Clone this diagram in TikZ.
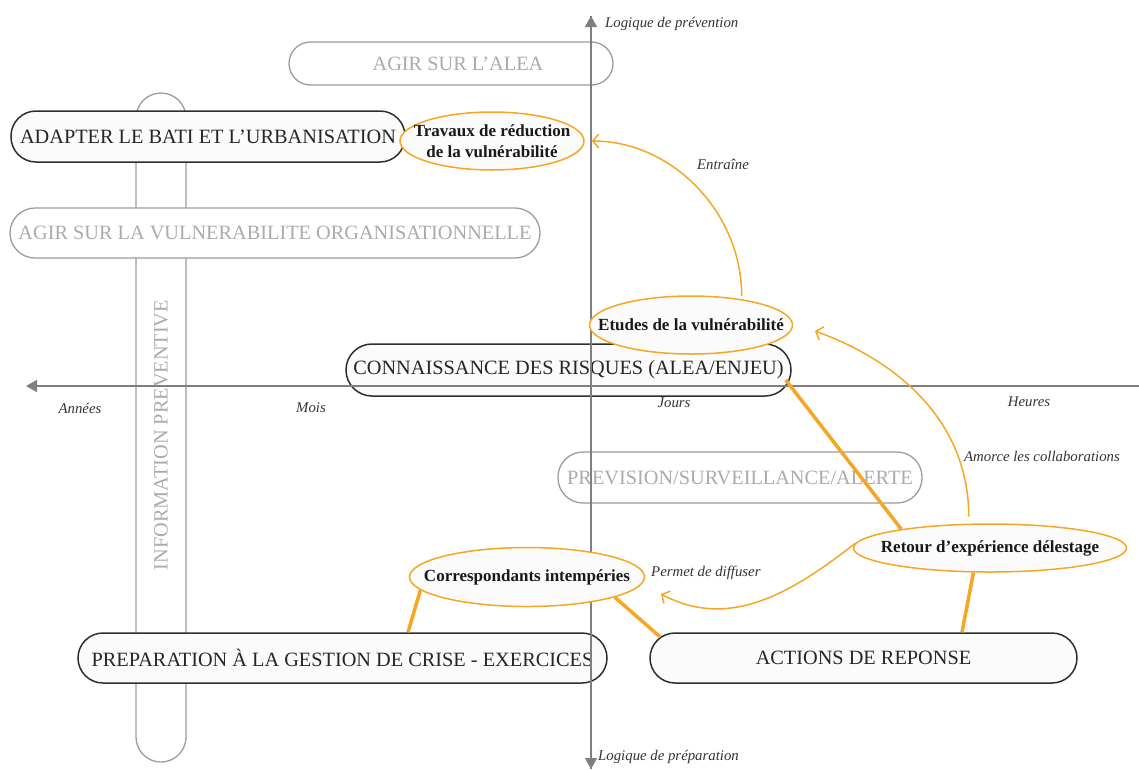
\documentclass[tikz,border=0pt]{standalone}
\usepackage{fontspec}
\setmainfont{Liberation Serif}
\usetikzlibrary{arrows.meta,shapes.geometric,calc}
\definecolor{axisgray}{HTML}{7F7F7F}
\definecolor{orng}{HTML}{F5A623}
\definecolor{boxdark}{HTML}{2E2E2E}
\definecolor{boxlight}{HTML}{9C9C9C}
\definecolor{txtlight}{HTML}{ABABAB}
\definecolor{fillw}{HTML}{FBFBFB}
\begin{document}
\begin{tikzpicture}[x=1pt,y=1pt,
  bigtxt/.style={font=\fontsize{20.3}{23}\selectfont},
  darkbox/.style={rectangle, rounded corners=25pt, draw=boxdark, line width=1.5pt, fill=fillw, text=black!85, bigtxt, inner sep=0pt},
  lightbox/.style={rectangle, rounded corners=25pt, draw=boxlight, line width=1.3pt, fill=white, text=txtlight, bigtxt, inner sep=0pt},
  idea/.style={ellipse, draw=orng, line width=1.5pt, fill=fillw, inner sep=0pt},
  ideatext/.style={text=black!90, font=\bfseries\fontsize{17}{20}\selectfont, inner sep=0pt, align=center},
  axisline/.style={draw=axisgray, line width=1.5pt},
  axtip/.style={-{Triangle[length=11pt,width=12pt]}},
  axlabel/.style={font=\itshape\fontsize{14.8}{17}\selectfont, text=black!80, inner sep=0pt},
  link/.style={draw=orng, line width=3.5pt},
  flow/.style={draw=orng, line width=1.5pt, -{Straight Barb[length=6pt,width=14pt]}},
]
\useasboundingbox (0,0) rectangle (1139,-769);

% vertical background box
\node[lightbox, rotate=90, minimum width=669pt, minimum height=50pt] (info) at (161,-427.5) {INFORMATION PREVENTIVE\hspace*{15pt}};

% boxes
\node[lightbox, rounded corners=21.5pt, minimum width=324pt, minimum height=43pt] (alea) at (451,-63.5) {\hspace*{14pt}AGIR SUR L’ALEA};
\node[darkbox, minimum width=394pt, minimum height=51pt] (adapter) at (208,-136.5) {ADAPTER LE BATI ET L’URBANISATION};
\node[lightbox, minimum width=530pt, minimum height=50pt] (orga) at (275,-233) {AGIR SUR LA VULNERABILITE ORGANISATIONNELLE};
\node[darkbox, rounded corners=26pt, minimum width=445pt, minimum height=52pt] (connaissance) at (568.5,-370) {CONNAISSANCE DES RISQUES (ALEA/ENJEU)};
\node[lightbox, minimum width=364pt, minimum height=51pt] (prevision) at (740,-477.5) {PREVISION/SURVEILLANCE/ALERTE};
\node[darkbox, minimum width=529pt, minimum height=50pt] (prep) at (342.5,-658) {PREPARATION À LA GESTION DE CRISE - EXERCICES};
\node[darkbox, minimum width=427pt, minimum height=50pt] (actions) at (863.5,-658) {ACTIONS DE REPONSE};

% axes
\coordinate (ytop) at (591,-16);
\coordinate (ybot) at (591,-769);
\coordinate (xleft) at (26,-386);
\coordinate (xright) at (1139,-386);
\draw[axisline, axtip] (ybot) -- (ytop);
\draw[axisline, axtip] (ytop) -- (ybot);
\draw[axisline, axtip] (xright) -- (xleft);

% axis labels
\node[axlabel, anchor=west] (lprev) at (605,-24) {Logique de prévention};
\node[axlabel, anchor=west] (lprep) at (598,-757) {Logique de préparation};
\node[axlabel] (annees) at (80,-408) {Années};
\node[axlabel] (mois) at (311,-408) {Mois};
\node[axlabel] (jours) at (674,-403) {Jours};
\node[axlabel] (heures) at (1029,-402) {Heures};

% ideas
\node[idea, minimum width=184pt, minimum height=58pt,
  label={[ideatext]center:{Travaux de réduction\\[1pt]de la vulnérabilité}}] (travaux) at (492,-141) {};
\node[idea, minimum width=203pt, minimum height=58pt,
  label={[ideatext]center:Etudes de la vulnérabilité}] (etudes) at (691,-325) {};
\node[idea, minimum width=273pt, minimum height=48pt,
  label={[ideatext]center:Retour d’expérience délestage}] (retour) at (990,-548) {};
\node[idea, minimum width=235pt, minimum height=59pt,
  label={[ideatext]center:Correspondants intempéries}] (corr) at (527,-577) {};

% thick links
\draw[link] ($(connaissance.east)+(-6,-10)$) -- (retour.168);
\draw[link] (retour.236) -- ($(actions.north)+(98.5,0)$);
\draw[link] (corr.187) -- ($(prep.north)+(65.5,0)$);
\draw[link] (corr.-13) -- ($(actions.west)+(11,21)$);

% flows
\coordinate (amorceEnd) at (815,-331);
\draw[flow, shorten <=3pt, shorten >=7pt] (etudes.27) to[out=90,in=0] (travaux.east);
\draw[flow, shorten <=7pt] (retour.131) to[out=90,in=-20] (amorceEnd);
\coordinate (permetEnd) at (661,-594);
\draw[flow] (retour.178) to[out=218,in=-28] (permetEnd);

% flow labels
\node[axlabel] (entraine) at (723,-164) {Entraîne};
\node[axlabel] (amorce) at (1042,-456) {Amorce les collaborations};
\node[axlabel, anchor=west] (permet) at (651,-573) {Permet de diffuser};
\end{tikzpicture}
\end{document}
